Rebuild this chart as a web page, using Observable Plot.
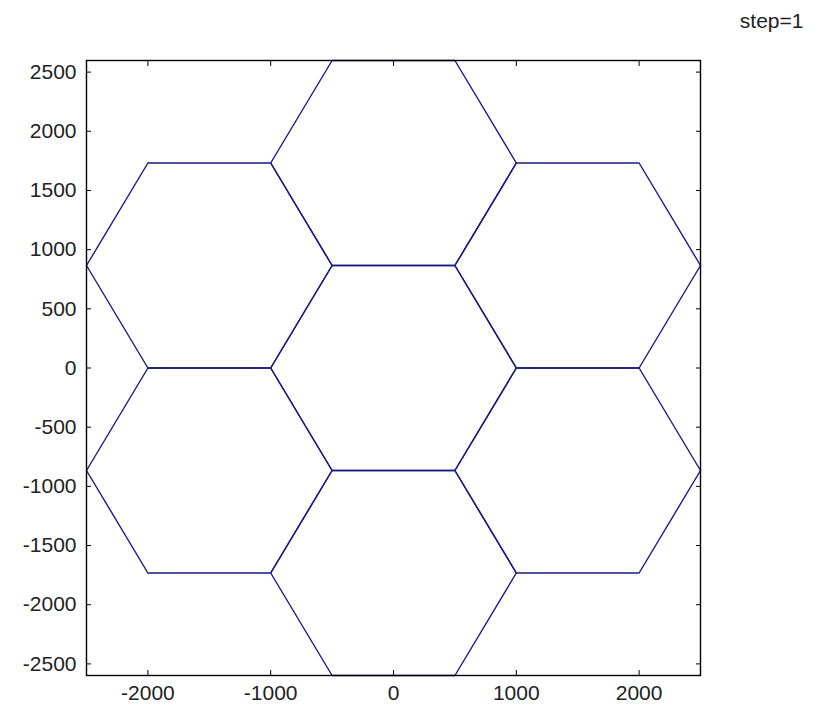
<!DOCTYPE html>
<html>
<head>
<meta charset="utf-8">
<script src="https://cdn.jsdelivr.net/npm/d3@7"></script>
<script src="https://cdn.jsdelivr.net/npm/@observablehq/plot@0.6"></script>
<style>
  html, body { margin: 0; padding: 0; background: #fff; }
  svg { display: block; }
</style>
</head>
<body>
<div id="chart"></div>
<script>
// Hexagon cell centres (flat-top hexagons, side = 1000)
const centersX = [0, 0, 0, -1500, -1500, 1500, 1500];
const centersY = [0, 1732.05, -1732.05, 866.03, -866.03, 866.03, -866.03];
const hexRadius = 1000;
const vertexAngles = [0, 60, 120, 180, 240, 300, 360];

const xTicks = [-2000, -1000, 0, 1000, 2000];
const yTicks = [-2500, -2000, -1500, -1000, -500, 0, 500, 1000, 1500, 2000, 2500];
const xDomain = [-2500, 2500];
const yDomain = [-2598.08, 2598.08];
const titleText = "step=1";

const hexVerts = [];
centersX.forEach((cx, i) => {
  const cy = centersY[i];
  vertexAngles.forEach(a => {
    const r = a * Math.PI / 180;
    hexVerts.push({hex: i, x: cx + hexRadius * Math.cos(r), y: cy + hexRadius * Math.sin(r)});
  });
});

const font = "Liberation Sans, Arial, sans-serif";
const fs = 21;
const noText = () => "";

const chart = Plot.plot({
  width: 817,
  height: 706,
  marginLeft: 86,
  marginRight: 117,
  marginTop: 60,
  marginBottom: 31,
  style: {fontFamily: font, fontSize: fs + "px", color: "#222", background: "#fff"},
  x: {domain: xDomain, label: null},
  y: {domain: yDomain, label: null},
  marks: [
    Plot.line(hexVerts, {x: "x", y: "y", z: "hex", stroke: "#1a1a82", strokeWidth: 1.4}),
    Plot.frame({stroke: "#000", strokeWidth: 1.4}),
    // inward tick marks on all four sides
    Plot.axisX({anchor: "bottom", ticks: xTicks, tickSize: -5, tickFormat: noText, label: null, stroke: "#000"}),
    Plot.axisX({anchor: "top", ticks: xTicks, tickSize: -5, tickFormat: noText, label: null, stroke: "#000"}),
    Plot.axisY({anchor: "left", ticks: yTicks, tickSize: -5, tickFormat: noText, label: null, stroke: "#000"}),
    Plot.axisY({anchor: "right", ticks: yTicks, tickSize: -5, tickFormat: noText, label: null, stroke: "#000"}),
    // tick labels
    Plot.axisX({anchor: "bottom", ticks: xTicks, tickSize: 0, tickPadding: 10, tickFormat: d => String(d), label: null, fontSize: fs, fill: "#222"}),
    Plot.axisY({anchor: "left", ticks: yTicks, tickSize: 0, tickPadding: 10, tickFormat: d => String(d), label: null, fontSize: fs, fill: "#222"}),
    Plot.text([titleText], {frameAnchor: "top-right", text: d => d, dx: 103, dy: -33, textAnchor: "end", lineAnchor: "bottom", fontSize: fs, fill: "#222"})
  ]
});
document.getElementById("chart").appendChild(chart);
</script>
</body>
</html>
